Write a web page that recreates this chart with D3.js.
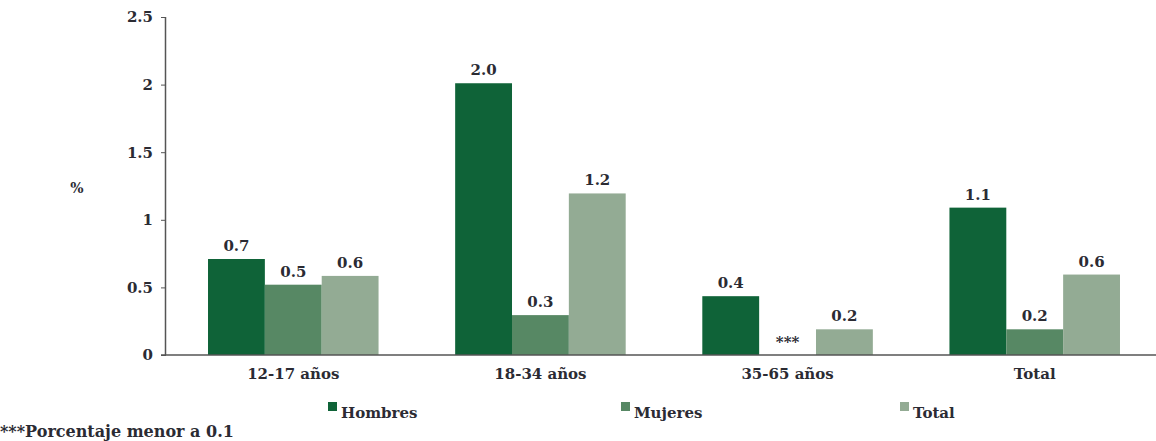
<!DOCTYPE html>
<html><head><meta charset="utf-8">
<script src="https://cdn.jsdelivr.net/npm/d3@7/dist/d3.min.js"></script>
<style>
body{margin:0;background:#fff;}
svg text{font-family:"DejaVu Serif","Liberation Serif",serif;font-weight:bold;fill:#2b2b33;}
</style></head>
<body><svg id="c" width="1156" height="441"></svg>
<script>
const categories = ["12-17 años","18-34 años","35-65 años","Total"];
const seriesNames = ["Hombres","Mujeres","Total"];
const hombres = [0.71, 2.01, 0.435, 1.09];
const mujeres = [0.52, 0.295, 0, 0.19];
const total = [0.585, 1.195, 0.19, 0.595];
const hombresLabels = ["0.7","2.0","0.4","1.1"];
const mujeresLabels = ["0.5","0.3","***","0.2"];
const totalLabels = ["0.6","1.2","0.2","0.6"];
const yTicks = [0,0.5,1,1.5,2,2.5];
const yTickLabels = ["0","0.5","1","1.5","2","2.5"];
const colors = ["#0f6338","#578864","#93ab94"];

const series = [hombres, mujeres, total];
const labels = [hombresLabels, mujeresLabels, totalLabels];
const svg = d3.select("#c");
const x0 = 166, x1 = 1162, yTop = 17, yBase = 355;
const x = d3.scaleBand().domain(categories).range([x0, x1]).paddingInner(0.31).paddingOuter(0.17);
const xs = d3.scaleBand().domain(seriesNames).range([0, x.bandwidth()]);
const y = d3.scaleLinear().domain([0, 2.5]).range([yBase, yTop]);
const FS = 15;

// bars
series.forEach((vals, si) => {
  const g = svg.append("g");
  g.selectAll("rect").data(vals).join("rect")
    .attr("x", (d,i) => x(categories[i]) + xs(seriesNames[si]))
    .attr("width", xs.bandwidth())
    .attr("y", d => y(d))
    .attr("height", d => yBase - y(d))
    .attr("fill", colors[si]);
  g.selectAll("text").data(vals).join("text")
    .attr("x", (d,i) => x(categories[i]) + xs(seriesNames[si]) + xs.bandwidth()/2)
    .attr("y", d => y(d) - 8)
    .attr("text-anchor", "middle")
    .attr("font-size", FS)
    .text((d,i) => labels[si][i]);
});

// y axis
const yAxis = d3.axisLeft(y).tickValues(yTicks).tickFormat((d,i) => yTickLabels[i]).tickSize(5).tickPadding(8);
const ya = svg.append("g").attr("transform", `translate(${x0},0)`).call(yAxis);
ya.select(".domain").attr("stroke", "#555").attr("stroke-width", 1.5).attr("d", `M-0.5,${yTop}V${yBase}`);
ya.selectAll(".tick line").attr("stroke", "#555");
ya.selectAll(".tick text").attr("font-size", FS).attr("font-family", null).attr("fill", null);

// x axis
const xAxis = d3.axisBottom(x).tickSize(0).tickPadding(13);
const xa = svg.append("g").attr("transform", `translate(0,${yBase})`).call(xAxis);
xa.select(".domain").attr("stroke", "#555").attr("stroke-width", 1.5).attr("d", `M${x0-5},0H1156`);
xa.selectAll(".tick text").attr("font-size", FS).attr("font-family", null).attr("fill", null);

// y title
svg.append("text").attr("x", 77).attr("y", 193).attr("text-anchor","middle").attr("font-size", 14).text("%");

// legend
const legX = [328, 621, 900];
seriesNames.forEach((n, i) => {
  svg.append("rect").attr("x", legX[i]).attr("y", 402).attr("width", 9).attr("height", 9).attr("fill", colors[i]);
  svg.append("text").attr("x", legX[i] + 13).attr("y", 418).attr("font-size", FS).text(n);
});

// footnote
svg.append("text").attr("x", 0).attr("y", 437).attr("font-size", 16).text("***Porcentaje menor a 0.1");
</script></body></html>
